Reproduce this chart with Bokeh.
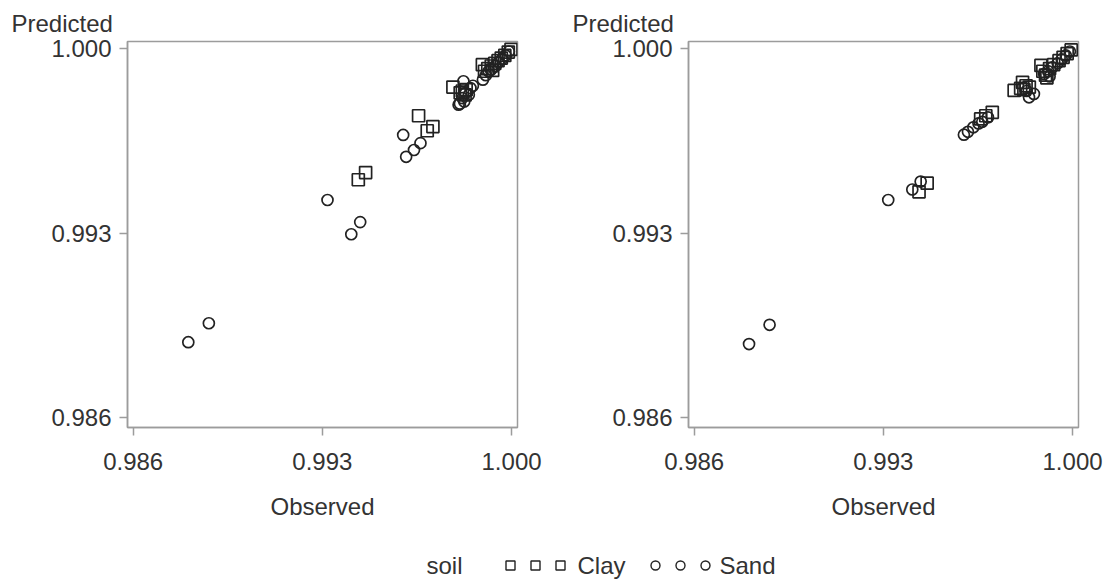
from bokeh.plotting import figure
from bokeh.layouts import column, row
from bokeh.models import Range1d, FixedTicker, NumeralTickFormatter
from bokeh.core.properties import value
from bokeh.embed import file_html
from bokeh.resources import INLINE

# ---------------- data ----------------
tick_values = [0.986, 0.993, 1.000]
x_label = "Observed"
y_label = "Predicted"
legend_title = "soil"
groups = ["Clay", "Sand"]

# left panel
left_clay_obs = [0.99433, 0.99460, 0.99656, 0.99688, 0.99709,
                 0.99783, 0.99810, 0.99818, 0.99832, 0.99828,
                 0.99892, 0.99900, 0.99912, 0.99925, 0.99930, 0.99938,
                 0.99950, 0.99962, 0.99975, 0.99988, 0.99998]
left_clay_pred = [0.99503, 0.99530, 0.99746, 0.99689, 0.99705,
                  0.99855, 0.99833, 0.99840, 0.99845, 0.99825,
                  0.99940, 0.99915, 0.99925, 0.99935, 0.99918, 0.99945,
                  0.99955, 0.99965, 0.99975, 0.99988, 0.99998]
left_sand_obs = [0.98804, 0.98880, 0.99319, 0.99407, 0.99440,
                 0.99599, 0.99610, 0.99639, 0.99663,
                 0.99804, 0.99809, 0.99818, 0.99822, 0.99830, 0.99842,
                 0.99848, 0.99857, 0.99825,
                 0.99894, 0.99905, 0.99915, 0.99925, 0.99940, 0.99952,
                 0.99965, 0.99978, 0.99990]
left_sand_pred = [0.98886, 0.98958, 0.99426, 0.99296, 0.99342,
                  0.99673, 0.99590, 0.99616, 0.99642,
                  0.99788, 0.99792, 0.99813, 0.99877, 0.99832, 0.99826,
                  0.99851, 0.99860, 0.99800,
                  0.99883, 0.99900, 0.99915, 0.99922, 0.99935, 0.99950,
                  0.99962, 0.99975, 0.99990]

# right panel
right_clay_obs = [0.99432, 0.99462, 0.99660, 0.99679, 0.99703,
                  0.99784, 0.99815, 0.99808, 0.99828, 0.99840, 0.99820,
                  0.99883, 0.99890, 0.99900, 0.99905, 0.99915, 0.99930,
                  0.99950, 0.99965, 0.99980, 0.99995]
right_clay_pred = [0.99457, 0.99490, 0.99734, 0.99746, 0.99759,
                   0.99842, 0.99873, 0.99850, 0.99860, 0.99855, 0.99845,
                   0.99937, 0.99915, 0.99900, 0.99890, 0.99925, 0.99940,
                   0.99955, 0.99968, 0.99982, 0.99996]
right_sand_obs = [0.98803, 0.98879, 0.99318, 0.99407, 0.99438,
                  0.99598, 0.99613, 0.99633, 0.99652, 0.99666, 0.99687,
                  0.99830, 0.99839, 0.99857,
                  0.99895, 0.99910, 0.99915, 0.99925, 0.99945, 0.99960,
                  0.99975, 0.99990]
right_sand_pred = [0.98879, 0.98952, 0.99426, 0.99466, 0.99496,
                   0.99674, 0.99685, 0.99702, 0.99717, 0.99723, 0.99740,
                   0.99840, 0.99816, 0.99829,
                   0.99905, 0.99915, 0.99895, 0.99930, 0.99945, 0.99960,
                   0.99975, 0.99990]

# ---------------- style ----------------
FONT = "Liberation Sans"
FS = "24px"
TEXT_COLOR = "#333333"
AXIS_COLOR = "#9c9c9c"
MARK_COLOR = "#222222"
X_RANGE = (0.98579, 1.00022)
Y_RANGE = (0.98562, 1.00028)


def make_panel(clay_obs, clay_pred, sand_obs, sand_pred, border_left, border_right):
    p = figure(frame_width=390, frame_height=386,
               min_border_left=border_left, min_border_right=border_right,
               min_border_top=41, min_border_bottom=94,
               x_range=Range1d(*X_RANGE), y_range=Range1d(*Y_RANGE),
               output_backend="svg", toolbar_location=None)
    p.grid.visible = False
    p.outline_line_color = AXIS_COLOR
    p.outline_line_width = 1.5
    p.background_fill_color = "white"
    p.border_fill_color = "white"
    for ax in (p.xaxis, p.yaxis):
        ax.ticker = FixedTicker(ticks=tick_values)
        ax.formatter = NumeralTickFormatter(format="0.000")
        ax.axis_line_color = AXIS_COLOR
        ax.axis_line_width = 1.5
        ax.major_tick_line_color = AXIS_COLOR
        ax.major_tick_line_width = 1.5
        ax.major_tick_in = 0
        ax.major_tick_out = 8
        ax.minor_tick_line_color = None
        ax.major_label_text_font = FONT
        ax.major_label_text_font_size = FS
        ax.major_label_text_color = TEXT_COLOR
    p.xaxis.major_label_standoff = 17
    p.yaxis.major_label_standoff = 8
    p.xaxis.axis_label = x_label
    p.xaxis.axis_label_text_font = FONT
    p.xaxis.axis_label_text_font_size = FS
    p.xaxis.axis_label_text_font_style = "normal"
    p.xaxis.axis_label_text_color = TEXT_COLOR
    p.xaxis.axis_label_standoff = 20

    p.title.text = y_label
    p.title.align = "left"
    p.title.offset = -116
    p.title.standoff = 9
    p.title.text_font = FONT
    p.title.text_font_size = FS
    p.title.text_font_style = "normal"
    p.title.text_color = TEXT_COLOR

    p.scatter(clay_obs, clay_pred, marker="square", size=12,
              fill_color=None, line_color=MARK_COLOR, line_width=1.7)
    p.scatter(sand_obs, sand_pred, marker="circle", size=11,
              fill_color=None, line_color=MARK_COLOR, line_width=1.7)
    return p


p1 = make_panel(left_clay_obs, left_clay_pred, left_sand_obs, left_sand_pred, 127, 30)
p2 = make_panel(right_clay_obs, right_clay_pred, right_sand_obs, right_sand_pred, 141, 27)

# ---------------- legend strip ----------------
LEG_W, LEG_H = 1105, 60
leg = figure(width=LEG_W, height=LEG_H, x_range=Range1d(0, LEG_W), y_range=Range1d(0, LEG_H),
             min_border=0, output_backend="svg", toolbar_location=None)
leg.axis.visible = False
leg.grid.visible = False
leg.outline_line_color = None
leg_y = 17
sym_x = {"Clay": [510, 535, 560], "Sand": [655, 680, 705]}
txt_x = {"Clay": 577, "Sand": 719}
markers = {"Clay": "square", "Sand": "circle"}
leg.text(x=[426], y=[leg_y], text=[legend_title], text_align="left", text_baseline="middle",
         text_font=value(FONT), text_font_size=FS, text_color=TEXT_COLOR)
for g in groups:
    leg.scatter(sym_x[g], [leg_y] * 3, marker=markers[g], size=9,
                fill_color=None, line_color=MARK_COLOR, line_width=1.4)
    leg.text(x=[txt_x[g]], y=[leg_y], text=[g], text_align="left", text_baseline="middle",
             text_font=value(FONT), text_font_size=FS, text_color=TEXT_COLOR)

layout = column(row(p1, p2), leg)
open("out.html", "w").write(file_html(layout, INLINE))
